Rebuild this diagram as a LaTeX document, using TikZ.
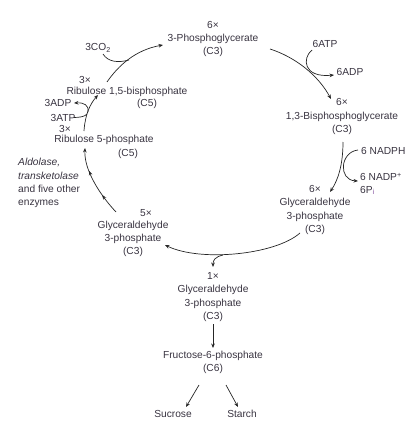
\documentclass[tikz,border=0pt]{standalone}
\usepackage{fontspec}
\setmainfont{Liberation Sans}
\usetikzlibrary{arrows.meta,decorations.markings}
\definecolor{txt}{rgb}{0.22,0.2,0.25}
\definecolor{ln}{rgb}{0.15,0.15,0.15}
\definecolor{pcol}{rgb}{0.5,0.3,0.62}
\tikzset{
  lbl/.style={font=\fontsize{10.2}{13.2}\selectfont, text=txt, inner sep=0pt, align=center},
  lbll/.style={lbl, align=left, anchor=west},
  conn/.style={draw=ln, line width=0.7pt, -{Stealth[length=4.5pt,width=3.6pt]}},
  plain/.style={draw=ln, line width=0.7pt},
  midarr/.style={postaction={decorate}, decoration={markings,
     mark=at position 0.3 with {\arrow{Stealth[length=4.5pt,width=3.6pt]}},
     mark=at position 0.68 with {\arrow{Stealth[length=4.5pt,width=3.6pt]}}}}
}
\begin{document}
\begin{tikzpicture}[x=1pt,y=-1pt]
\useasboundingbox (0,0) rectangle (419,425);
% texts
\node[lbl] (pga) at (213,39) {6×\\3-Phosphoglycerate\\(C3)};
\node[lbl] (bpg) at (342,116.5) {6×\\1,3-Bisphosphoglycerate\\(C3)};
\node[lbl] (g3psix) at (315,210) {6×\\Glyceraldehyde\\3-phosphate\\(C3)};
\node[lbl] (five) at (146,213) {5×};
\node[lbl] (g3pfive) at (133,239) {Glyceraldehyde\\3-phosphate\\(C3)};
\node[lbl] (g3pone) at (213,297) {1×\\Glyceraldehyde\\3-phosphate\\(C3)};
\node[lbl] (f6p) at (213,362.5) {Fructose-6-phosphate\\(C6)};
\node[lbl] (suc) at (173,414) {Sucrose};
\node[lbl] (sta) at (242,414) {Starch};
\node[lbl] (rubpn) at (85,80) {3×};
\node[lbl] (rubp) at (127,91.5) {Ribulose 1,5-bisphosphate};
\node[lbl] (rubpc) at (147,103.5) {(C5)};
\node[lbl] (rufn) at (65,128.5) {3×};
\node[lbl] (ruf) at (104,140) {Ribulose 5-phosphate};
\node[lbl] (rufc) at (128,153.5) {(C5)};
\node[lbl] (co2) at (98,48) {3CO\textsubscript{2}};
\node[lbl] (adpthree) at (58,102.5) {3ADP};
\node[lbl] (atpthree) at (63,117.5) {3ATP};
\node[lbl] (atpsix) at (325,43.5) {6ATP};
\node[lbl] (adpsix) at (350,71.5) {6ADP};
\node[lbll] (nadph) at (361,150.5) {6 NADPH};
\node[lbll] (nadp) at (360,177) {6 NADP\textsuperscript{+}};
\node[lbll] (pi) at (360,190.5) {6P\textsubscript{\color{pcol}i}};
\node[lbll] (ald) at (18,183) {\textit{Aldolase,}\\\textit{transketolase}\\and five other\\enzymes};

% connector end points
\coordinate (a1s) at (107,82);
\coordinate (a1e) at (163,45);
\coordinate (co2s) at (103,54);
\coordinate (co2e) at (129,60);
\coordinate (a2s) at (270,49);
\coordinate (a2e) at (331,99);
\coordinate (atps) at (312,50);
\coordinate (atpe) at (334,75);
\coordinate (a3s) at (343,142);
\coordinate (a3e) at (330,192);
\coordinate (nads) at (358,150);
\coordinate (nade) at (358,181);
\coordinate (a4s) at (300,233);
\coordinate (a4e) at (165,245);
\coordinate (brs) at (223,255);
\coordinate (bre) at (213,267);
\coordinate (a5s) at (116,212);
\coordinate (a5e) at (85,148);
\coordinate (a6s) at (84,131);
\coordinate (a6e) at (98,95);
\coordinate (atp3s) at (74,117.5);
\coordinate (atp3e) at (87,114);
\coordinate (adp3s) at (88,112);
\coordinate (adp3e) at (74,103);
\coordinate (a7s) at (213,324);
\coordinate (a7e) at (213,348);
\coordinate (a8s) at (199,385);
\coordinate (a8e) at (186,407);
\coordinate (a9s) at (226,385);
\coordinate (a9e) at (238,407);

% connectors
\draw[conn] (a1s) .. controls (118,66) and (135,50) .. (a1e);
\draw[plain] (co2s) .. controls (108,62) and (118,63) .. (co2e);
\draw[conn] (a2s) .. controls (295,57) and (318,75) .. (a2e);
\draw[conn] (atps) .. controls (302,58) and (303,78) .. (atpe);
\draw[conn] (a3s) .. controls (343,165) and (338,180) .. (a3e);
\draw[conn] (nads) .. controls (340,152) and (338,180) .. (nade);
\draw[conn] (a4s) .. controls (275,255) and (200,262) .. (a4e);
\draw[conn] (brs) .. controls (215,257) and (213,260) .. (bre);
\draw[conn,midarr] (a5s) .. controls (100,195) and (84,170) .. (a5e);
\draw[conn] (a6s) .. controls (85,115) and (90,104) .. (a6e);
\draw[plain] (atp3s) .. controls (80,117.5) and (85,116.5) .. (atp3e);
\draw[conn] (adp3s) .. controls (89,105) and (84,102.5) .. (adp3e);
\draw[conn] (a7s) -- (a7e);
\draw[conn] (a8s) -- (a8e);
\draw[conn] (a9s) -- (a9e);
\end{tikzpicture}
\end{document}
